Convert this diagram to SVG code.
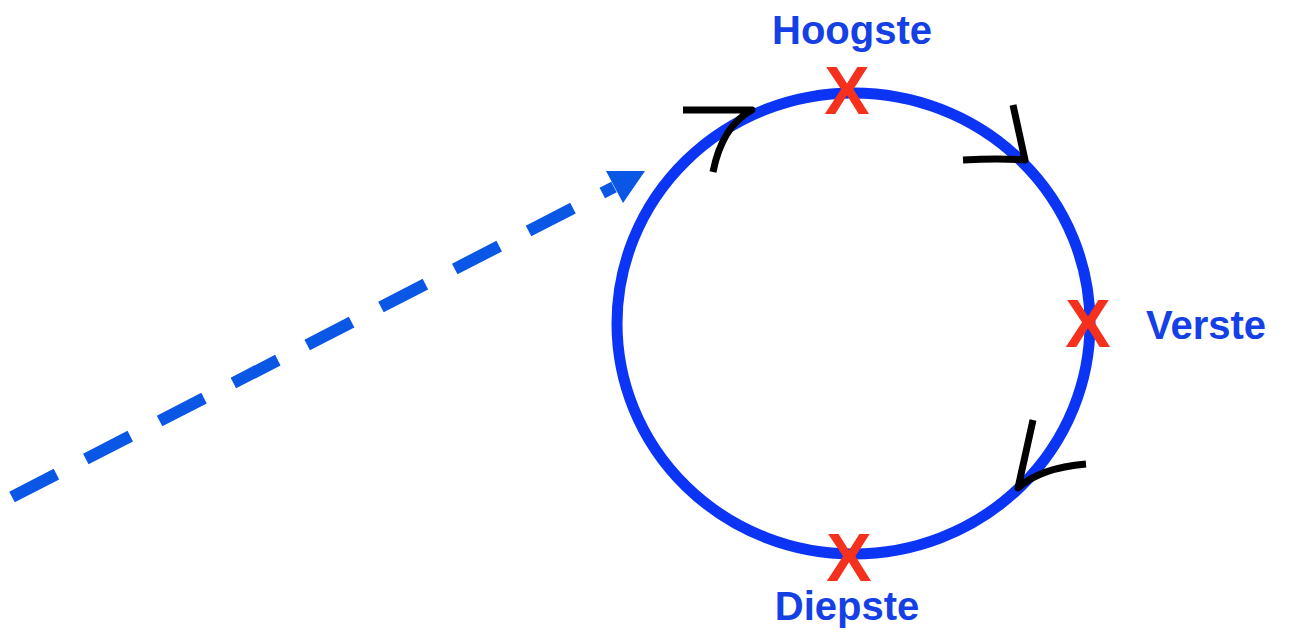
<svg xmlns="http://www.w3.org/2000/svg" width="1290" height="635" viewBox="0 0 1290 635">
  <style>
    .label { font-family: "Liberation Sans", Arial, sans-serif; font-weight: bold; font-size: 40px; fill: #1440e6; text-anchor: middle; }
    .cross { font-family: "Liberation Sans", Arial, sans-serif; font-weight: bold; font-size: 68px; fill: #f5301c; text-anchor: middle; }
    .dir { fill: none; stroke: #000; stroke-width: 7; stroke-linejoin: round; }
  </style>
  <rect width="1290" height="635" fill="#fff"/>

  <!-- orbit -->
  <g id="orbit">
    <ellipse cx="853.5" cy="323.5" rx="236.5" ry="230.5" fill="none" stroke="#0b34f5" stroke-width="11"/>
  </g>

  <!-- connectors: incoming dashed path and direction marks -->
  <g id="connectors">
    <line x1="12" y1="497" x2="614" y2="187" stroke="#0a57e6" stroke-width="12" stroke-dasharray="50 33"/>
    <polygon points="645,171 606,171 623,203" fill="#0a57e6"/>
    <path class="dir" d="M683,110 L752,110 Q722,126 713,172"/>
    <path class="dir" d="M1013,105 L1025,160 Q1000,158 963,160"/>
    <path class="dir" d="M1033,420 L1018,488 Q1040,468 1086,464"/>
  </g>

  <g id="hoogste">
    <text class="cross" x="847" y="114">X</text>
    <text class="label" x="852" y="44">Hoogste</text>
  </g>
  <g id="verste">
    <text class="cross" x="1088" y="347">X</text>
    <text class="label" x="1206" y="339">Verste</text>
  </g>
  <g id="diepste">
    <text class="cross" x="849" y="581">X</text>
    <text class="label" x="847" y="620">Diepste</text>
  </g>
</svg>
